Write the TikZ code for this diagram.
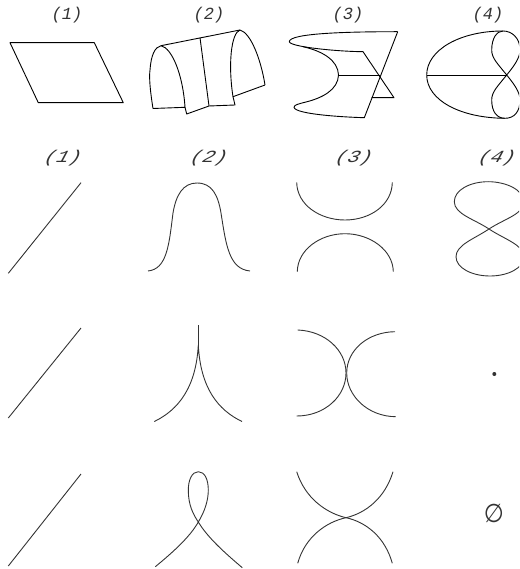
\documentclass[tikz,border=0pt]{standalone}
\usepackage{fontspec}
\setmainfont{Liberation Mono}
\tikzset{
  lab/.style={font=\itshape\fontsize{17}{17}\selectfont,inner sep=0pt,text=black!80},
  labb/.style={lab,xscale=1.2,xslant=0.25},
  sh/.style={black,line width=0.9pt,line join=round},
  cv/.style={black!80,line width=0.9pt,line join=round}
}
\begin{document}
\begin{tikzpicture}[x=1pt,y=-1pt]
\useasboundingbox (0,0) rectangle (519,569);
\clip (0,0) rectangle (519,569);
\node[lab] (a1) at (67,15) {(1)};
\node[lab] (a2) at (209,15) {(2)};
\node[lab] (a3) at (348,15) {(3)};
\node[lab] (a4) at (488,15) {(4)};
\node[labb] (b1) at (63,158) {(1)};
\node[labb] (b2) at (209,158) {(2)};
\node[labb] (b3) at (354,158) {(3)};
\node[labb] (b4) at (497,158) {(4)};
% top 1
\draw[sh] (10,42.7)--(94.3,42.7)--(123.3,102.7)--(38.3,102.7)--cycle;
% top 2
\draw[sh] (161,45.7)--(240,30);
\draw[sh] (153,108.5) .. controls (150,90) and (149,77) .. (150,70) .. controls (151,55) and (155,47) .. (161,45.7) .. controls (172,48) and (183,75) .. (185,107.3) -- cycle;
\draw[sh] (185,107.3)--(186.7,114)--(209,106)--(235,105)--(233,96.7)--(265,85);
\draw[sh] (200,37.7)--(209,106);
\draw[sh] (233,96.7) .. controls (228,65) and (231,33) .. (240,30) .. controls (251,33) and (261,60) .. (265,85);
% top 3
\draw[sh] (397.7,31.7) .. controls (350,31.7) and (289.3,33) .. (289.3,41.7) .. controls (290,47) and (338,51.5) .. (363,51.7) -- (394,97.7) -- (371.7,97.7);
\draw[sh] (303,46.7) .. controls (322,51) and (338,60) .. (338.5,75) .. controls (338,90) and (322,98) .. (306,102) .. controls (298,104) and (294,105) .. (294,107.3) .. controls (295,114) and (340,117) .. (364.3,117.7) -- (397.7,31.7);
\draw[sh] (338.5,75)--(380,75);
% top 4
\draw[sh] (503,31) .. controls (460,31) and (426.7,50) .. (426.7,75) .. controls (426.7,100) and (460,118) .. (505,118.3);
\draw[sh] (426.7,75)--(506.7,75);
\draw[sh] (506.7,75) .. controls (497,63) and (491.7,58) .. (491.7,50) .. controls (491.7,38) and (497,31) .. (503,31) .. controls (512,31) and (520,38) .. (520,50) .. controls (520,58) and (514,66) .. (506.7,75) .. controls (497,87) and (491.7,92) .. (491.7,100) .. controls (491.7,112) and (497,118.3) .. (505,118.3) .. controls (514,118.3) and (520,112) .. (520,100) .. controls (520,92) and (514,84) .. (506.7,75);
% row 1
\draw[cv] (8.3,273.3)--(81,182.7);
\draw[cv] (148,271) .. controls (167,269) and (169,245) .. (173,213) .. controls (176,195) and (183,183) .. (197,183) .. controls (212,183) and (218,195) .. (221,213) .. controls (226,245) and (229,269) .. (250,271);
\draw[cv] (296.7,182.3) .. controls (297,205) and (320,220) .. (345,220) .. controls (370,220) and (392,205) .. (392.3,182.3);
\draw[cv] (297.3,271.7) .. controls (297.5,250) and (320,233.7) .. (345,233.7) .. controls (370,233.7) and (393,250) .. (393.3,271.7);
\draw[cv] (489,229) .. controls (474,219) and (454.3,214) .. (454.3,201.7) .. controls (454.3,190) and (470,181.7) .. (488.3,181.7) .. controls (506,181.7) and (524,190) .. (524,202) .. controls (524,214) and (504,219) .. (489,229) .. controls (474,239) and (456,245) .. (456,256.7) .. controls (456,268) and (472,276) .. (490,276) .. controls (508,276) and (524,268) .. (524,256.7) .. controls (524,245) and (504,239) .. (489,229);
% row 2
\draw[cv] (8.3,418)--(81,328);
\draw[cv] (198.3,325)--(198.3,347);
\draw[cv] (154.3,421.5) .. controls (178,410) and (196,388) .. (198.3,345) .. controls (200.5,388) and (218,410) .. (242,421.5);
\draw[cv] (297.7,330) .. controls (325,331) and (346,350) .. (346,373) .. controls (346,396) and (325,416) .. (296.7,416);
\draw[cv] (395,331.7) .. controls (368,332) and (346.7,350) .. (346.7,373) .. controls (346.7,396) and (368,416.5) .. (395.7,416.7);
\fill[black!80] (494.3,374) circle (2);
% row 3
\draw[cv] (8.3,566)--(81,474);
\draw[cv] (155.3,566.7) .. controls (172,553) and (190,537) .. (198.3,522) .. controls (205,511) and (208.3,500) .. (208.3,490) .. controls (208.3,480) and (205,471.7) .. (198.3,471.7) .. controls (192,471.7) and (188.3,480) .. (188.3,490) .. controls (188.3,505) and (193,514) .. (198.3,522) .. controls (208,538) and (225,553) .. (242.3,567.7);
\draw[cv] (296.7,471.7) .. controls (305,498) and (326,513) .. (346,517.7) .. controls (366,513) and (385,498) .. (393,471.7);
\draw[cv] (297.7,563.3) .. controls (305,537) and (326,522) .. (346,517.7) .. controls (366,522) and (385,537) .. (392.3,563.3);
\node[lab,yscale=1.12] (e) at (494,513) {\fontspec{DejaVu Sans}\fontsize{23}{23}\selectfont ∅};
\end{tikzpicture}
\end{document}
